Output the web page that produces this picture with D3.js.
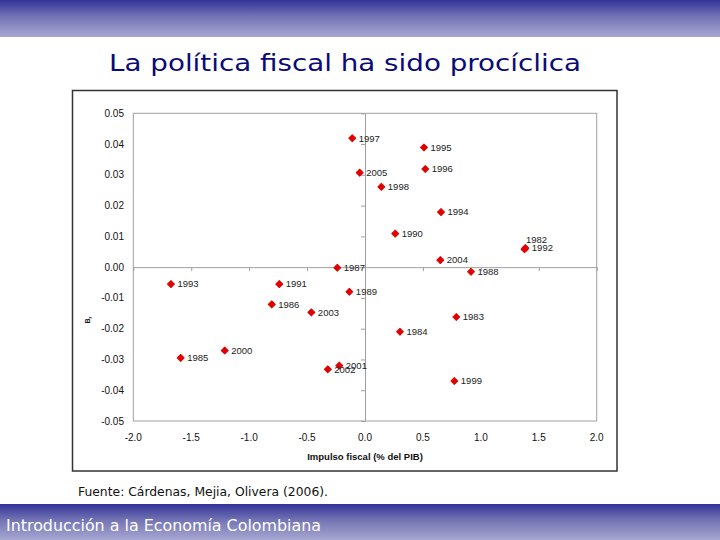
<!DOCTYPE html>
<html>
<head>
<meta charset="utf-8">
<script src="https://cdn.jsdelivr.net/npm/d3@7"></script>
<style>
  html, body { margin: 0; padding: 0; background: #fff; }
  svg { display: block; }
</style>
</head>
<body>
<svg id="chart" width="720" height="540"></svg>
<script>
// ---- Data ----
const years = [1982, 1983, 1984, 1985, 1986, 1987, 1988, 1989, 1990, 1991, 1992, 1993,
               1994, 1995, 1996, 1997, 1998, 1999, 2000, 2001, 2002, 2003, 2004, 2005];
const impulsoFiscal = [1.377, 0.788, 0.302, -1.591, -0.805, -0.239, 0.915, -0.135, 0.261, -0.740, 1.384, -1.675,
                       0.656, 0.509, 0.520, -0.110, 0.141, 0.771, -1.211, -0.222, -0.321, -0.463, 0.650, -0.046];
const betaR = [0.0058, -0.0162, -0.0210, -0.0295, -0.0121, -0.0002, -0.0015, -0.0080, 0.0109, -0.0055, 0.0062, -0.0055,
               0.0179, 0.0389, 0.0319, 0.0419, 0.0261, -0.0370, -0.0271, -0.0320, -0.0332, -0.0147, 0.0023, 0.0307];
const xTicks = [-2.0, -1.5, -1.0, -0.5, 0.0, 0.5, 1.0, 1.5, 2.0];
const yTicks = [0.05, 0.04, 0.03, 0.02, 0.01, 0.00, -0.01, -0.02, -0.03, -0.04, -0.05];

const titleText = "La política fiscal ha sido procíclica";
const xTitle = "Impulso fiscal (% del PIB)";
const sourceText = "Fuente: Cárdenas, Mejia, Olivera (2006).";
const footerText = "Introducción a la Economía Colombiana";

// ---- Drawing ----
const svg = d3.select("#chart");
const defs = svg.append("defs");
const grad = defs.append("linearGradient").attr("id", "band").attr("x1", 0).attr("y1", 0).attr("x2", 0).attr("y2", 1);
grad.append("stop").attr("offset", "0%").attr("stop-color", "#333399");
grad.append("stop").attr("offset", "45%").attr("stop-color", "#7474b4");
grad.append("stop").attr("offset", "100%").attr("stop-color", "#a7a7d2");

// header and footer bands
svg.append("rect").attr("x", 0).attr("y", 0).attr("width", 720).attr("height", 37).attr("fill", "url(#band)");
svg.append("rect").attr("x", 0).attr("y", 504).attr("width", 720).attr("height", 36).attr("fill", "url(#band)");

// title
svg.append("text").attr("x", 109).attr("y", 71)
  .attr("font-family", "Tahoma, 'DejaVu Sans', sans-serif").attr("font-size", 23)
  .attr("fill", "#0a0a78").attr("textLength", 472).attr("lengthAdjust", "spacingAndGlyphs")
  .text(titleText);

// footer text
svg.append("text").attr("x", 6).attr("y", 531)
  .attr("font-family", "Tahoma, 'DejaVu Sans', sans-serif").attr("font-size", 16)
  .attr("fill", "#ffffff").attr("textLength", 315).attr("lengthAdjust", "spacingAndGlyphs")
  .text(footerText);

// source text
svg.append("text").attr("x", 78).attr("y", 496)
  .attr("font-family", "Tahoma, 'DejaVu Sans', sans-serif").attr("font-size", 11.5)
  .attr("fill", "#111").attr("textLength", 250).attr("lengthAdjust", "spacingAndGlyphs")
  .text(sourceText);

// chart frame
svg.append("rect").attr("x", 72.5).attr("y", 90.5).attr("width", 544.5).attr("height", 380.5)
  .attr("fill", "#fff").attr("stroke", "#333").attr("stroke-width", 1.5);

const x = d3.scaleLinear().domain([-2, 2]).range([133.3, 596.7]);
const y = d3.scaleLinear().domain([-0.05, 0.05]).range([421, 113.3]);

// plot area border
svg.append("rect").attr("x", x(-2)).attr("y", y(0.05)).attr("width", x(2) - x(-2)).attr("height", y(-0.05) - y(0.05))
  .attr("fill", "none").attr("stroke", "#a0a0a0").attr("stroke-width", 1);

const font = "'Liberation Sans', Arial, sans-serif";

// x axis through y = 0 (line and ticks)
const xAxis = d3.axisBottom(x).tickValues(xTicks).tickSize(4).tickSizeOuter(0).tickFormat("");
const gx = svg.append("g").attr("transform", `translate(0,${y(0)})`).call(xAxis);
gx.selectAll("path, line").attr("stroke", "#a0a0a0");

// y axis through x = 0 (line and ticks)
const yAxis = d3.axisLeft(y).tickValues(yTicks).tickSize(4).tickSizeOuter(0).tickFormat("");
const gy = svg.append("g").attr("transform", `translate(${x(0)},0)`).call(yAxis);
gy.selectAll("path, line").attr("stroke", "#a0a0a0");

// tick labels at the plot edges
svg.append("g").selectAll("text").data(xTicks).join("text")
  .attr("x", d => x(d)).attr("y", 441)
  .attr("text-anchor", "middle").attr("font-family", font).attr("font-size", 10).attr("fill", "#111")
  .text(d => d3.format(".1f")(d).replace("−", "-"));

svg.append("g").selectAll("text").data(yTicks).join("text")
  .attr("x", 124).attr("y", d => y(d)).attr("dy", "0.35em")
  .attr("text-anchor", "end").attr("font-family", font).attr("font-size", 10).attr("fill", "#111")
  .text(d => d3.format(".2f")(d).replace("−", "-"));

// axis titles
svg.append("text").attr("x", x(0)).attr("y", 460).attr("text-anchor", "middle")
  .attr("font-family", font).attr("font-size", 9.5).attr("font-weight", "bold").attr("fill", "#111")
  .text(xTitle);

const yt = svg.append("text").attr("transform", "translate(90,320) rotate(-90)")
  .attr("text-anchor", "middle").attr("font-family", font).attr("font-size", 7).attr("font-weight", "bold").attr("fill", "#111");
yt.append("tspan").text("B");
yt.append("tspan").attr("dy", 2).attr("font-size", 5).text("r");

// points (diamond = square turned 45 degrees)
const pts = years.map((yr, i) => ({ year: yr, xv: impulsoFiscal[i], yv: betaR[i] }));
const sym = d3.symbol().type(d3.symbolSquare).size(24);
svg.append("g").selectAll("path").data(pts).join("path")
  .attr("d", sym)
  .attr("transform", d => `translate(${x(d.xv)},${y(d.yv)}) rotate(45)`)
  .attr("fill", "#e00000").attr("stroke", "#e00000").attr("stroke-width", 1).attr("stroke-linejoin", "round");

// labels: right of point; if a later point sits on top of this one, put this label above
svg.append("g").selectAll("text").data(pts).join("text")
  .each(function (d, i) {
    const overlapped = pts.some((o, j) => j > i &&
      Math.abs(x(o.xv) - x(d.xv)) < 3 && Math.abs(y(o.yv) - y(d.yv)) < 3);
    d3.select(this)
      .attr("x", x(d.xv) + (overlapped ? 1.5 : 6.5))
      .attr("y", y(d.yv) + (overlapped ? -10 : 0));
  })
  .attr("dy", "0.35em").attr("font-family", font).attr("font-size", 9.5).attr("fill", "#222")
  .text(d => d.year);
</script>
</body>
</html>
